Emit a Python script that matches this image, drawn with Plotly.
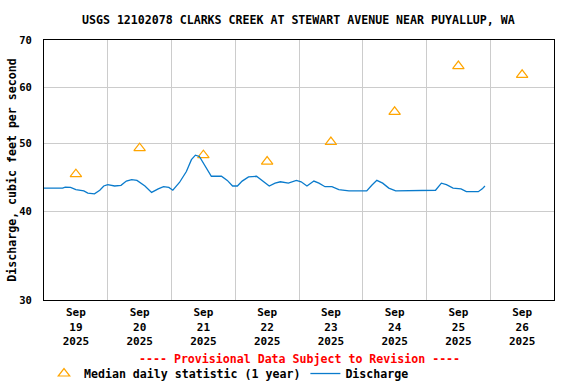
import plotly.graph_objects as go
import datetime as dt

# Median daily statistic (1 year), plotted at noon of each day
median_dates = ["2025-09-19 12:00", "2025-09-20 12:00", "2025-09-21 12:00", "2025-09-22 12:00",
                "2025-09-23 12:00", "2025-09-24 12:00", "2025-09-25 12:00", "2025-09-26 12:00"]
median_values = [45.2, 49.2, 48.1, 47.1, 50.2, 55.4, 64.3, 62.5]

# Discharge (cfs), hours since 2025-09-19 00:00
discharge_hours = [0, 7, 8, 10, 12, 15, 16.5, 19, 21, 22.5, 24, 26.6, 29, 31, 33, 35, 38, 40.5, 43, 45,
                   47, 48.5, 51, 53.6, 55.5, 57, 58.5, 60, 61.5, 63, 66.8, 69, 71, 72.8, 74.6, 77, 80,
                   82.5, 84.8, 87, 89, 92, 95, 96.8, 99, 101.6, 103.5, 105.8, 108.4, 111, 114.8, 118.5,
                   121.5, 123.4, 125.3, 127.5, 129.8, 132.4, 137, 143, 147.4, 149.6, 151.5, 154, 157,
                   159, 163.5, 165, 166]
discharge_values = [43.2, 43.2, 43.35, 43.3, 43.0, 42.8, 42.5, 42.4, 42.9, 43.5, 43.7, 43.5, 43.6, 44.2,
                    44.4, 44.3, 43.5, 42.6, 43.1, 43.4, 43.3, 42.9, 44.0, 45.6, 47.4, 48.1, 47.9, 46.8,
                    45.8, 44.9, 44.9, 44.3, 43.5, 43.5, 44.2, 44.8, 44.9, 44.2, 43.5, 43.9, 44.1, 43.9,
                    44.3, 44.1, 43.5, 44.2, 43.9, 43.4, 43.4, 43.0, 42.8, 42.8, 42.8, 43.6, 44.3, 43.9,
                    43.2, 42.8, 42.8, 42.8, 42.9, 43.9, 43.7, 43.2, 43.1, 42.7, 42.7, 43.1, 43.5]

tick_dates = median_dates
tick_labels = ["Sep<br>19<br>2025", "Sep<br>20<br>2025", "Sep<br>21<br>2025", "Sep<br>22<br>2025",
               "Sep<br>23<br>2025", "Sep<br>24<br>2025", "Sep<br>25<br>2025", "Sep<br>26<br>2025"]
y_ticks = [30, 40, 50, 60, 70]

start = dt.datetime(2025, 9, 19)
discharge_times = [start + dt.timedelta(hours=h) for h in discharge_hours]

FONT = "DejaVu Sans Mono"
FS = 11.6

fig = go.Figure()
fig.add_trace(go.Scatter(
    x=median_dates, y=median_values, mode="markers",
    name="Median daily statistic (1 year)",
    marker=dict(symbol="triangle-up-open", size=10, color="#FFA500", line=dict(width=1.2)),
))
fig.add_trace(go.Scatter(
    x=discharge_times, y=discharge_values, mode="lines",
    name="Discharge", line=dict(color="#0A7BCC", width=1.3),
))

fig.update_layout(
    width=576, height=384,
    margin=dict(l=44, r=22, t=40, b=84, autoexpand=False),
    paper_bgcolor="white", plot_bgcolor="white",
    font=dict(family=FONT, size=FS, color="black", weight="bold"),
    title=dict(text="USGS 12102078 CLARKS CREEK AT STEWART AVENUE NEAR PUYALLUP, WA",
               x=0.518, xanchor="center", y=0.948, yanchor="middle",
               font=dict(family=FONT, size=FS, weight="bold"), automargin=False),
    showlegend=True,
    legend=dict(orientation="h", x=0.0, xanchor="left", y=-0.227, yanchor="top",
                font=dict(family=FONT, size=FS, weight="bold"),
                itemwidth=30, tracegroupgap=0, bgcolor="rgba(0,0,0,0)"),
    annotations=[dict(text="---- Provisional Data Subject to Revision ----",
                      xref="paper", yref="paper", x=0.5, y=-0.227, xanchor="center", yanchor="middle",
                      showarrow=False, font=dict(family=FONT, size=FS, color="red", weight="bold"))],
)
fig.update_xaxes(
    automargin=False,
    range=[start, start + dt.timedelta(days=8)],
    tickvals=tick_dates, ticktext=tick_labels, ticks="", showgrid=False,
    minor=dict(tick0="2025-09-19", dtick=86400000, showgrid=True, gridcolor="#CCCCCC", gridwidth=1, ticks=""),
    showline=True, linecolor="black", linewidth=1, mirror=True, zeroline=False,
    tickfont=dict(family=FONT, size=11, weight="bold"), ticklabelstandoff=2,
)
fig.update_yaxes(
    automargin=False,
    type="log", range=[1.4771213, 1.845098],
    tickvals=y_ticks, ticktext=[str(v) for v in y_ticks], ticks="",
    showgrid=True, gridcolor="#CCCCCC", gridwidth=1,
    showline=True, linecolor="black", linewidth=1, mirror=True, zeroline=False,
    title=dict(text="Discharge, cubic feet per second", standoff=0,
               font=dict(family=FONT, size=FS, weight="bold")),
    tickfont=dict(family=FONT, size=10.5, weight="bold"), ticklabelstandoff=9,
)
fig.write_html("out.html", config={"displayModeBar": False},
               post_script="document.body.style.margin='0';")
